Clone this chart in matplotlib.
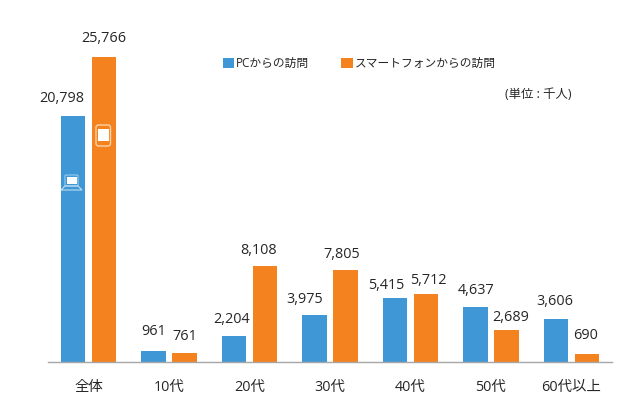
import matplotlib
matplotlib.use('Agg')
import matplotlib.pyplot as plt
from matplotlib.patches import FancyBboxPatch, Rectangle, Polygon
import numpy as np

categories = ['全体', '10代', '20代', '30代', '40代', '50代', '60代以上']
pc_values = [20798, 961, 2204, 3975, 5415, 4637, 3606]
sp_values = [25766, 761, 8108, 7805, 5712, 2689, 690]
series_names = ['PCからの訪問', 'スマートフォンからの訪問']
unit_label = '(単位 : 千人)'

# hand-placed label nudges in pixels (dx from bar centre, dy above bar top)
pc_label_dx = [-11, 0, -3, -10, -9, 0, -1]
pc_label_dy = [17, 19, 16, 15, 12, 17, 18]
sp_label_dx = [0, 0, -6, -4, 3, 4, -1]
sp_label_dy = [18, 16, 16, 15, 14, 13, 18]

plt.rcParams['font.family'] = ['Open Sans', 'Noto Sans CJK JP', 'DejaVu Sans']
BLUE = '#3F98D5'
ORANGE = '#F4821F'
TXT = '#262626'
W, H = 640, 418

fig = plt.figure(figsize=(W / 100, H / 100), dpi=100, facecolor='white')
left, right, bottom, top = 48, 612, 362, 20
ax = fig.add_axes([left / W, 1 - bottom / H, (right - left) / W, (bottom - top) / H])

spacing = 80.5
ax.set_xlim((left - 88.5) / spacing, (right - 88.5) / spacing)
ymax = 25766 * (bottom - top) / (362 - 57)
ax.set_ylim(0, ymax)

x = np.arange(len(categories))
off = 15.3 / spacing
bw = 24.5 / spacing
b1 = ax.bar(x - off, pc_values, bw, color=BLUE, label=series_names[0])
b2 = ax.bar(x + off, sp_values, bw, color=ORANGE, label=series_names[1])

for xi, v, dx, dy in zip(x - off, pc_values, pc_label_dx, pc_label_dy):
    ax.annotate(f'{v:,}', (xi, v), xytext=(dx, dy), textcoords='offset pixels',
                ha='center', va='center', fontsize=10.4, color=TXT)
for xi, v, dx, dy in zip(x + off, sp_values, sp_label_dx, sp_label_dy):
    ax.annotate(f'{v:,}', (xi, v), xytext=(dx, dy), textcoords='offset pixels',
                ha='center', va='center', fontsize=10.4, color=TXT)

for s in ['top', 'right', 'left']:
    ax.spines[s].set_visible(False)
ax.spines['bottom'].set_color('#A6A6A6')
ax.spines['bottom'].set_linewidth(1.0)
ax.set_yticks([])
ax.set_xticks(x)
ax.set_xticklabels(categories, fontsize=10.4, color=TXT)
ax.tick_params(axis='x', length=0, pad=13)

leg = fig.legend(handles=[b1, b2], labels=series_names, ncol=2, frameon=False,
                 loc='center left', bbox_to_anchor=(222 / W, 1 - 63.5 / H),
                 fontsize=8.45, handlelength=0.95, handleheight=0.95,
                 handletextpad=0.15, columnspacing=2.75, labelcolor=TXT,
                 borderpad=0.1, borderaxespad=0)

fig.text(505 / W, 1 - 94 / H, unit_label, fontsize=8.9, color=TXT, ha='left', va='center')

# device icons (pixel coordinates, drawn on a figure-wide overlay)
ov = fig.add_axes([0, 0, 1, 1], facecolor='none')
ov.set_xlim(0, W); ov.set_ylim(H, 0); ov.axis('off')
# laptop
ov.add_patch(FancyBboxPatch((65, 175), 13, 11, boxstyle='round,pad=0,rounding_size=1',
                            fc='none', ec='#A9D2EE', lw=0.7))
ov.add_patch(Rectangle((66.5, 177), 10, 7, fc='white', ec='none'))
ov.add_patch(Polygon([(65, 186), (78, 186), (82, 190), (61, 190)], closed=True,
                     fc='none', ec='#CFE5F5', lw=0.7))
# phone
ov.add_patch(FancyBboxPatch((96, 125), 14.5, 21, boxstyle='round,pad=0,rounding_size=2.5',
                            fc='none', ec='#FBD3A8', lw=1.0))
ov.add_patch(Rectangle((98, 129), 10.5, 12, fc='white', ec='none'))

fig.savefig('out.png', dpi=100, facecolor='white')
